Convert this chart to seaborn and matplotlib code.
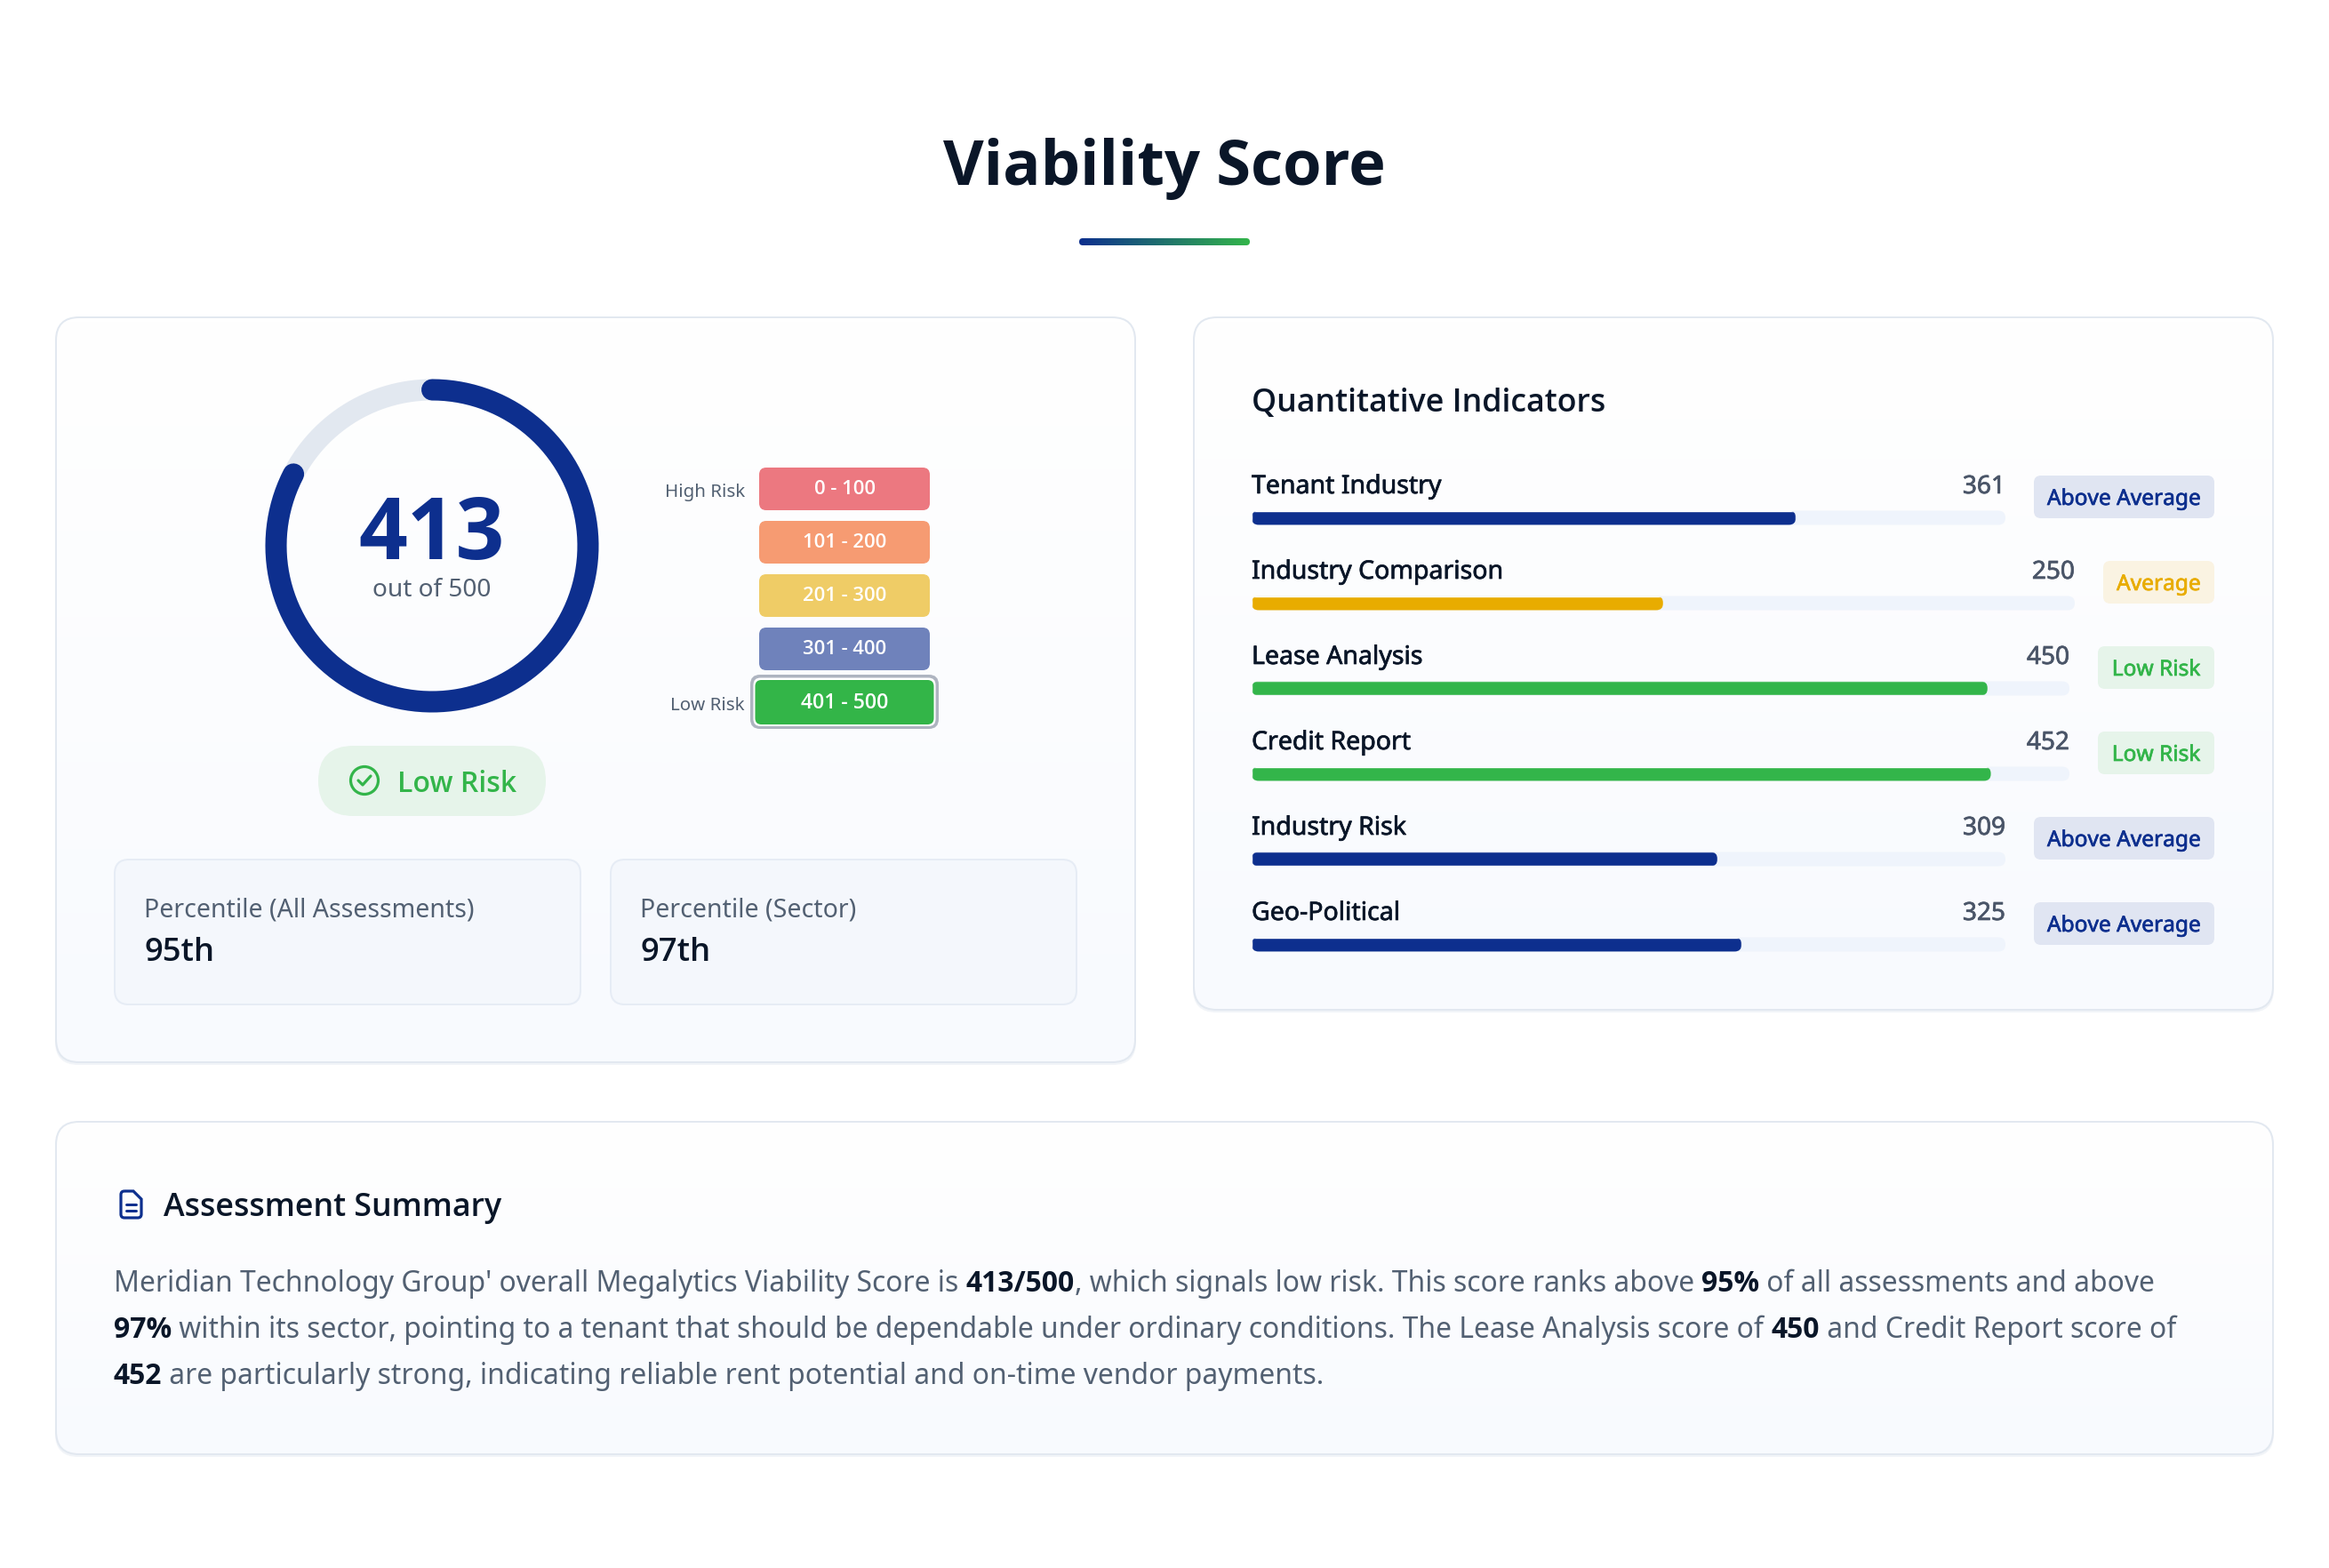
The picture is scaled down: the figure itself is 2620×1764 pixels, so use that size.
import numpy as np
import pandas as pd
import matplotlib
matplotlib.use('Agg')
import matplotlib.pyplot as plt
import matplotlib.patheffects as pe
import seaborn as sns
from matplotlib.patches import FancyBboxPatch, Circle, PathPatch
from matplotlib.path import Path
from matplotlib.colors import LinearSegmentedColormap

# 数据
score = 413
score_max = 500
percentile_names = ['Percentile (All Assessments)', 'Percentile (Sector)']
percentile_values = ['95th', '97th']
risk_ranges = ['0 - 100', '101 - 200', '201 - 300', '301 - 400', '401 - 500']
risk_colors = ['#EC7880', '#F69B72', '#EFCC66', '#6F82BB', '#33B548']
indicator_names = ['Tenant Industry', 'Industry Comparison', 'Lease Analysis',
                   'Credit Report', 'Industry Risk', 'Geo-Political']
indicator_scores = [361, 250, 450, 452, 309, 325]
indicator_status = ['Above Average', 'Average', 'Low Risk', 'Low Risk',
                    'Above Average', 'Above Average']
summary_lines = [
    [("Meridian Technology Group' overall Megalytics Viability Score is ", False), ('413/500', True),
     (', which signals low risk. This score ranks above ', False), ('95%', True),
     (' of all assessments and above', False)],
    [('97%', True), (' within its sector, pointing to a tenant that should be dependable under ordinary '
                     'conditions. The Lease Analysis score of ', False), ('450', True),
     (' and Credit Report score of', False)],
    [('452', True), (' are particularly strong, indicating reliable rent potential and on-time vendor payments.', False)],
]

NAVY = '#0D2F8E'
GREEN = '#33B54A'
INK = '#0A1628'
GREY = '#526072'
status_fg = {'Above Average': NAVY, 'Average': '#E8AC00', 'Low Risk': GREEN}
status_bg = {'Above Average': '#E0E5F2', 'Average': '#FAF3E2', 'Low Risk': '#E6F4EA'}
badge_left = {'Above Average': 2288, 'Average': 2366, 'Low Risk': 2360}
track_right = {'Above Average': 2256, 'Average': 2334, 'Low Risk': 2328}

sns.set_style('white')
plt.rcParams['font.family'] = ['Noto Sans', 'DejaVu Sans']

W, H = 2620, 1764
fig = plt.figure(figsize=(W / 100, H / 100), dpi=100, facecolor='white')
# 画布坐标就是像素
ov = fig.add_axes([0, 0, 1, 1], zorder=0)
ov.set_xlim(0, W)
ov.set_ylim(H, 0)
ov.axis('off')
renderer = fig.canvas.get_renderer()


def fs(px):
    return px * 0.72


def family_of(weight):
    # Noto Sans 只有常规字重，粗体用 Open Sans
    return 'Noto Sans' if weight in ('normal', 'medium') else 'Open Sans'


def rbox(x0, y0, x1, y1, r, fc='none', ec='none', lw=0, z=2):
    p = FancyBboxPatch((x0, y0), x1 - x0, y1 - y0, boxstyle='round,pad=0,rounding_size=%s' % r,
                       fc=fc, ec=ec, lw=lw * 0.72, zorder=z, transform=ov.transData)
    ov.add_patch(p)
    return p


def gradient(x0, y0, x1, y1, r, colors, horizontal=False, z=2):
    clip = rbox(x0, y0, x1, y1, r, z=z)
    cmap = LinearSegmentedColormap.from_list('g', colors)
    g = np.linspace(0, 1, 256).reshape(1, -1) if horizontal else np.linspace(0, 1, 256).reshape(-1, 1)
    im = ov.imshow(g, cmap=cmap, extent=[x0, x1, y1, y0], aspect='auto', zorder=z, origin='upper',
                   interpolation='bilinear')
    im.set_clip_path(clip)
    ov.set_xlim(0, W)
    ov.set_ylim(H, 0)


def label(x, y, s, px, color=INK, weight='normal', ha='left', z=5):
    t = ov.text(x, y, s, fontsize=fs(px), color=color, family=family_of(weight),
                fontweight='normal' if weight == 'medium' else weight, ha=ha, va='baseline', zorder=z)
    if weight == 'medium':
        t.set_path_effects([pe.withStroke(linewidth=0.5, foreground=color)])
    return t


def text_width(s, px, weight):
    a = ov.text(0, 0, '|' + s + '|', fontsize=fs(px), family=family_of(weight), fontweight=weight)
    b = ov.text(0, 0, '||', fontsize=fs(px), family=family_of(weight), fontweight=weight)
    w = a.get_window_extent(renderer).width - b.get_window_extent(renderer).width
    a.remove()
    b.remove()
    return w


def card(x0, y0, x1, y1):
    rbox(x0 - 1, y0 + 1, x1 + 1, y1 + 3, 26, fc='#F1F4F8', z=1)
    gradient(x0, y0, x1, y1, 26, ['#FFFFFF', '#F8FAFE'])
    rbox(x0, y0, x1, y1, 26, ec='#E2E8F0', lw=2, z=3)


# 标题
label(W / 2, 208, 'Viability Score', 70.4, weight='bold', ha='center')
gradient(1214, 268, 1406, 276, 4, [NAVY, GREEN], horizontal=True, z=3)

card(63, 357, 1277, 1195)
card(1343, 357, 2557, 1136)
card(63, 1262, 2557, 1636)

# 环形分数
cx, cy, radius = 486, 614, 175.5
pax = fig.add_axes([(cx - radius) / W, 1 - (cy + radius) / H, 2 * radius / W, 2 * radius / H],
                   projection='polar', zorder=2)
pax.set_theta_zero_location('N')
pax.set_theta_direction(-1)
theta_full = np.linspace(0, 2 * np.pi, 361)
theta_score = np.linspace(0, 2 * np.pi * score / score_max, 361)
pax.plot(theta_full, np.ones_like(theta_full), color='#E2E8F0', lw=fs(24), clip_on=False)
sns.lineplot(x=theta_score, y=np.ones_like(theta_score), ax=pax, color=NAVY, lw=fs(24), sort=False,
             estimator=None, solid_capstyle='round', clip_on=False)
pax.set_ylim(0, 1)
pax.axis('off')
pax.patch.set_alpha(0)

label(cx, 629, str(score), 96, color=NAVY, weight='bold', ha='center')
label(cx, 671, 'out of %d' % score_max, 28, color=GREY, ha='center')

# 风险等级
pill_top = [526, 586, 646, 706, 765]
for i, (rng, col) in enumerate(zip(risk_ranges, risk_colors)):
    y0 = pill_top[i]
    if i == len(risk_ranges) - 1:
        rbox(844, y0 - 6, 1056, y0 + 55, 11, fc='#AEB4C0', z=3)
        rbox(847.5, y0 - 2.5, 1052.5, y0 + 52, 8, fc='white', z=3)
        rbox(849.5, y0, 1050.5, y0 + 50, 7, fc=col, z=4)
        label(950, y0 + 32, rng, 23, color='white', weight='semibold', ha='center')
    else:
        rbox(854, y0, 1046, y0 + 48, 8, fc=col, z=3)
        label(950, y0 + 30, rng, 22, color='white', weight='semibold', ha='center')
label(838, 559, 'High Risk', 20.5, color=GREY, ha='right')
label(838, 799, 'Low Risk', 20.5, color=GREY, ha='right')

# Low Risk 徽章
rbox(358, 839, 614, 918, 39.5, fc='#E6F4EA', z=3)
ov.add_patch(Circle((410, 878), 15.5, fc='none', ec=GREEN, lw=fs(3.2), zorder=5))
check = Path([(403, 878), (408, 883), (417, 873)], [Path.MOVETO, Path.LINETO, Path.LINETO])
ov.add_patch(PathPatch(check, fc='none', ec=GREEN, lw=fs(3.2), capstyle='round', joinstyle='round', zorder=5))
label(447, 891, 'Low Risk', 32, color=GREEN, weight='semibold')

# 百分位
for x0, name, val in zip([129, 687], percentile_names, percentile_values):
    rbox(x0, 967, x0 + 524, 1130, 16, fc='#F4F7FC', ec='#E6ECF5', lw=2, z=3)
    label(x0 + 33, 1031, name, 28.5, color=GREY)
    label(x0 + 33, 1081, val, 36.5, weight='semibold')

# 指标条
label(1408, 463, 'Quantitative Indicators', 35.8, weight='semibold')
indicators = pd.DataFrame({'name': indicator_names, 'score': indicator_scores, 'status': indicator_status})
for i, row in indicators.iterrows():
    dy = 96 * i
    top = 574.5 + dy
    left, right = 1408, track_right[row['status']]
    rbox(left, top, right, top + 16, 8, fc='#EFF4FC', z=3)
    bax = fig.add_axes([left / W, 1 - (top + 16) / H, (right - left) / W, 16 / H], zorder=2)
    sns.barplot(data=indicators.iloc[[i]], x='score', y='name', color=status_fg[row['status']],
                width=1, saturation=1, ax=bax)
    bax.set_xlim(0, score_max)
    bax.set_ylim(0.5, -0.5)
    bax.axis('off')
    bax.patch.set_alpha(0)
    end = left + (right - left) * row['score'] / score_max
    bar_clip = rbox(left, top, end, top + 16, 8, z=3)
    for b in bax.patches:
        b.set_clip_path(bar_clip)
    label(left, 555 + dy, row['name'], 28.5, weight='medium')
    label(right, 555 + dy, str(row['score']), 28, color='#4A5568', weight='medium', ha='right')
    bl = badge_left[row['status']]
    rbox(bl, 535 + dy, 2491, 583 + dy, 8, fc=status_bg[row['status']], z=3)
    label((bl + 2491) / 2, 568 + dy, row['status'], 24.5, color=status_fg[row['status']], weight='medium', ha='center')

# 摘要
doc = Path([(140, 1340), (150, 1340), (159, 1349), (159, 1366), (159, 1370), (155, 1370), (140, 1370), (136, 1370),
            (136, 1366), (136, 1344), (136, 1340), (140, 1340)],
           [Path.MOVETO, Path.LINETO, Path.LINETO, Path.LINETO, Path.CURVE3, Path.CURVE3, Path.LINETO, Path.CURVE3,
            Path.CURVE3, Path.LINETO, Path.CURVE3, Path.CURVE3])
ov.add_patch(PathPatch(doc, fc='none', ec=NAVY, lw=fs(3.2), zorder=5))
for ly in [1355, 1362]:
    ov.plot([142, 153], [ly, ly], color=NAVY, lw=fs(3), solid_capstyle='round', zorder=5)
label(184, 1368, 'Assessment Summary', 35.7, weight='semibold')

for base, runs in zip([1453, 1505, 1557], summary_lines):
    x = 128
    for s, bold in runs:
        weight = 'bold' if bold else 'normal'
        label(x, base, s, 31.82, color=INK if bold else GREY, weight=weight)
        x += text_width(s, 31.82, weight)

fig.savefig('out.png', dpi=100, facecolor='white')
